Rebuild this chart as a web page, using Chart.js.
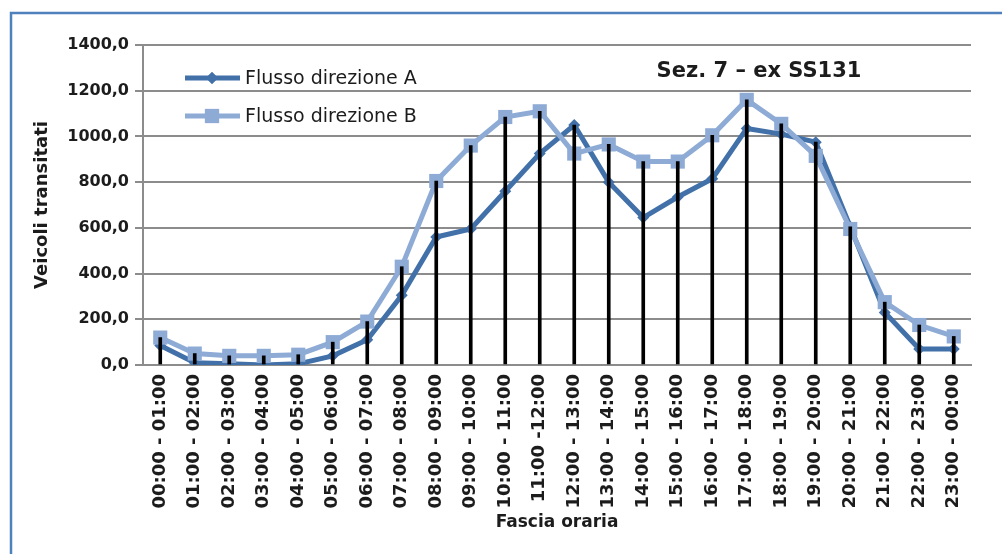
<!DOCTYPE html>
<html><head><meta charset="utf-8">
<script src="https://cdn.jsdelivr.net/npm/chart.js@4/dist/chart.umd.min.js"></script>
<style>html,body{margin:0;padding:0;background:#fff;overflow:hidden}#wrap{position:relative;width:1002px;height:554px}</style>
</head><body><div id="wrap"><canvas id="c" width="1002" height="554"></canvas></div>
<script>
const categories = ['00:00 - 01:00','01:00 - 02:00','02:00 - 03:00','03:00 - 04:00','04:00 - 05:00','05:00 - 06:00','06:00 - 07:00','07:00 - 08:00','08:00 - 09:00','09:00 - 10:00','10:00 - 11:00','11:00 -12:00','12:00 - 13:00','13:00 - 14:00','14:00 - 15:00','15:00 - 16:00','16:00 - 17:00','17:00 - 18:00','18:00 - 19:00','19:00 - 20:00','20:00 - 21:00','21:00 - 22:00','22:00 - 23:00','23:00 - 00:00'];
const flussoA = [85,10,5,0,5,40,110,305,560,595,760,925,1050,800,645,735,815,1035,1010,975,605,230,70,70];
const flussoB = [120,50,40,40,45,100,190,430,805,960,1085,1110,925,965,890,890,1005,1160,1055,915,595,275,175,125];
const yTickValues = [0,200,400,600,800,1000,1200,1400];
const seriesNames = ['Flusso direzione A','Flusso direzione B'];
const chartTitle = 'Sez. 7 – ex SS131';
const yAxisTitle = 'Veicoli transitati';
const xAxisTitle = 'Fascia oraria';

const colA = '#4271a9';
const colB = '#8eabd6';
const gridCol = '#8c8c8c';
const textCol = '#1c1c1c';
const dropLines = categories.map((_, i) => Math.max(flussoA[i], flussoB[i]));

const framePlugin = {
  id: 'frame',
  beforeDraw(chart) {
    const ctx = chart.ctx;
    ctx.save();
    ctx.fillStyle = '#fff';
    ctx.fillRect(0, 0, chart.width, chart.height);
    ctx.strokeStyle = '#4f81bd';
    ctx.lineWidth = 2.5;
    ctx.strokeRect(11, 13, 1100, 700);
    ctx.restore();
  }
};

const overlayPlugin = {
  id: 'overlay',
  afterDraw(chart) {
    const ctx = chart.ctx;
    ctx.save();
    ctx.fillStyle = textCol;
    ctx.font = 'bold 21px "DejaVu Sans"';
    ctx.textAlign = 'center';
    ctx.textBaseline = 'middle';
    ctx.fillText(chartTitle, 759, 72);
    const items = [
      {name: seriesNames[0], color: colA, style: 'rectRot', radius: 6, y: 78},
      {name: seriesNames[1], color: colB, style: 'rect', radius: 10, y: 116}
    ];
    items.forEach(it => {
      ctx.strokeStyle = it.color;
      ctx.lineWidth = 5;
      ctx.beginPath();
      ctx.moveTo(185, it.y);
      ctx.lineTo(240, it.y);
      ctx.stroke();
      ctx.fillStyle = it.color;
      Chart.helpers.drawPoint(ctx, {pointStyle: it.style, radius: it.radius, rotation: 0, borderWidth: 0}, 212, it.y);
      ctx.fill();
      ctx.fillStyle = textCol;
      ctx.font = '19px "DejaVu Sans"';
      ctx.textAlign = 'left';
      ctx.textBaseline = 'middle';
      ctx.fillText(it.name, 245, it.y + 1);
    });
    ctx.restore();
  }
};

new Chart(document.getElementById('c'), {
  data: {
    labels: categories,
    datasets: [
      {type: 'bar', label: 'drop', data: dropLines, backgroundColor: '#000', barThickness: 3, order: 0},
      {type: 'line', label: seriesNames[1], data: flussoB, borderColor: colB, backgroundColor: colB, borderWidth: 5,
       pointStyle: 'rect', pointRadius: 10, pointBorderWidth: 0, tension: 0, order: 1},
      {type: 'line', label: seriesNames[0], data: flussoA, borderColor: colA, backgroundColor: colA, borderWidth: 5,
       pointStyle: 'rectRot', pointRadius: 6, pointBorderWidth: 0, tension: 0, order: 2}
    ]
  },
  options: {
    responsive: false,
    animation: false,
    devicePixelRatio: 1,
    layout: {padding: {left: 0, right: 31, top: 45, bottom: 0}},
    plugins: {legend: {display: false}, tooltip: {enabled: false}},
    scales: {
      x: {
        type: 'category',
        offset: true,
        grid: {display: false, drawTicks: false},
        border: {display: true, color: gridCol, width: 2},
        ticks: {autoSkip: false, minRotation: 90, maxRotation: 90, padding: 9, color: textCol,
                font: {family: 'DejaVu Sans', size: 18, weight: 'bold'}},
        title: {display: true, text: xAxisTitle, color: textCol, padding: {top: 0, bottom: 21},
                font: {family: 'DejaVu Sans', size: 17, weight: 'bold'}},
        afterFit(scale) { scale.height = 189; }
      },
      y: {
        min: 0, max: 1400,
        afterBuildTicks(scale) { scale.ticks = yTickValues.map(v => ({value: v})); },
        grid: {color: gridCol, lineWidth: 2, tickLength: 8, drawTicks: true},
        border: {display: true, color: gridCol, width: 2},
        ticks: {padding: 6, color: textCol, font: {family: 'DejaVu Sans', size: 16, weight: 'bold'},
                callback: v => v.toFixed(1).replace('.', ',')},
        title: {display: true, text: yAxisTitle, color: textCol, padding: {top: 32, bottom: 0},
                font: {family: 'DejaVu Sans', size: 18, weight: 'bold'}},
        afterFit(scale) { scale.width = 143; }
      }
    }
  },
  plugins: [framePlugin, overlayPlugin]
});
</script></body></html>
